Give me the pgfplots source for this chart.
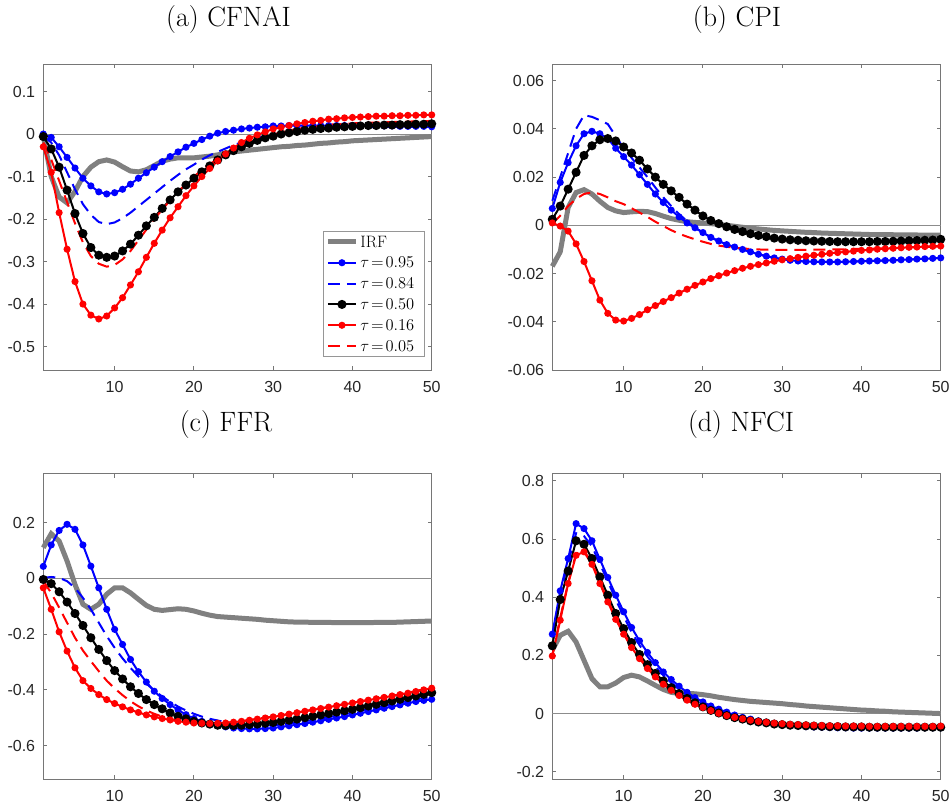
\RequirePackage{fix-cm}
\documentclass[border=0pt]{standalone}
\usepackage{fontspec}
\usepackage{pgfplots}
\usepackage{pgfplotstable}
\pgfplotsset{compat=1.18}
\newfontfamily\ticksf{Liberation Sans}
\definecolor{irfgray}{RGB}{128,128,128}
\definecolor{axgray}{RGB}{118,118,118}
\definecolor{zerogray}{RGB}{140,140,140}
\definecolor{tickgray}{RGB}{38,38,38}
\definecolor{leggray}{RGB}{150,150,150}

\pgfplotstableread{
t irf q95 q84 q50 q16 q05
1 -0.005 0.000 -0.005 -0.006 -0.030 -0.020
2 -0.100 -0.008 -0.020 -0.035 -0.090 -0.060
3 -0.148 -0.030 -0.050 -0.078 -0.185 -0.110
4 -0.162 -0.055 -0.090 -0.132 -0.271 -0.160
5 -0.135 -0.080 -0.130 -0.187 -0.347 -0.210
6 -0.100 -0.104 -0.165 -0.234 -0.400 -0.255
7 -0.078 -0.122 -0.190 -0.267 -0.426 -0.287
8 -0.065 -0.136 -0.207 -0.285 -0.435 -0.305
9 -0.061 -0.141 -0.212 -0.290 -0.428 -0.312
10 -0.066 -0.138 -0.208 -0.287 -0.409 -0.308
11 -0.077 -0.130 -0.198 -0.275 -0.385 -0.295
12 -0.087 -0.118 -0.185 -0.259 -0.355 -0.275
13 -0.089 -0.104 -0.170 -0.238 -0.324 -0.250
14 -0.084 -0.091 -0.155 -0.216 -0.290 -0.225
15 -0.074 -0.078 -0.140 -0.196 -0.257 -0.200
16 -0.064 -0.065 -0.125 -0.175 -0.226 -0.178
17 -0.059 -0.053 -0.110 -0.155 -0.197 -0.156
18 -0.056 -0.042 -0.096 -0.136 -0.171 -0.136
19 -0.056 -0.031 -0.083 -0.120 -0.145 -0.117
20 -0.056 -0.022 -0.072 -0.104 -0.122 -0.100
21 -0.054 -0.013 -0.060 -0.089 -0.100 -0.085
22 -0.052 -0.005 -0.050 -0.075 -0.081 -0.071
23 -0.049 0.002 -0.042 -0.061 -0.063 -0.058
24 -0.045 0.006 -0.034 -0.049 -0.047 -0.046
25 -0.042 0.009 -0.026 -0.039 -0.033 -0.036
26 -0.040 0.012 -0.020 -0.030 -0.020 -0.027
27 -0.038 0.014 -0.014 -0.022 -0.010 -0.019
28 -0.036 0.016 -0.009 -0.015 -0.002 -0.012
29 -0.034 0.017 -0.005 -0.009 0.005 -0.006
30 -0.032 0.019 -0.001 -0.005 0.012 -0.001
31 -0.030 0.019 0.002 0.000 0.016 0.004
32 -0.029 0.020 0.005 0.003 0.020 0.008
33 -0.027 0.020 0.008 0.006 0.024 0.012
34 -0.026 0.020 0.010 0.009 0.027 0.015
35 -0.024 0.020 0.012 0.011 0.030 0.018
36 -0.022 0.020 0.013 0.013 0.032 0.020
37 -0.021 0.020 0.014 0.014 0.035 0.022
38 -0.019 0.020 0.015 0.016 0.036 0.023
39 -0.018 0.020 0.015 0.017 0.038 0.024
40 -0.016 0.020 0.016 0.018 0.039 0.025
41 -0.015 0.020 0.016 0.019 0.040 0.026
42 -0.014 0.019 0.016 0.020 0.041 0.027
43 -0.013 0.019 0.017 0.020 0.042 0.027
44 -0.012 0.019 0.017 0.021 0.042 0.028
45 -0.011 0.019 0.017 0.021 0.043 0.028
46 -0.010 0.018 0.017 0.022 0.043 0.029
47 -0.009 0.018 0.017 0.022 0.044 0.029
48 -0.008 0.018 0.017 0.023 0.044 0.030
49 -0.007 0.018 0.017 0.023 0.045 0.030
50 -0.006 0.017 0.017 0.024 0.045 0.031
}\dataA

\pgfplotstableread{
t irf q95 q84 q50 q16 q05
1 -0.0170 0.0070 0.0102 0.0025 0.0010 0.0007
2 -0.0110 0.0178 0.0200 0.0080 -0.0003 0.0040
3 0.0074 0.0260 0.0300 0.0150 -0.0024 0.0080
4 0.0136 0.0330 0.0400 0.0220 -0.0077 0.0110
5 0.0148 0.0380 0.0457 0.0290 -0.0150 0.0130
6 0.0130 0.0390 0.0450 0.0330 -0.0230 0.0137
7 0.0100 0.0380 0.0436 0.0355 -0.0310 0.0130
8 0.0074 0.0360 0.0420 0.0360 -0.0365 0.0116
9 0.0060 0.0320 0.0370 0.0350 -0.0393 0.0100
10 0.0053 0.0285 0.0320 0.0325 -0.0397 0.0088
11 0.0056 0.0250 0.0280 0.0300 -0.0386 0.0071
12 0.0058 0.0210 0.0240 0.0270 -0.0370 0.0053
13 0.0057 0.0170 0.0200 0.0234 -0.0350 0.0035
14 0.0049 0.0130 0.0157 0.0200 -0.0333 0.0015
15 0.0038 0.0095 0.0116 0.0170 -0.0316 -0.0003
16 0.0028 0.0063 0.0080 0.0143 -0.0300 -0.0020
17 0.0021 0.0035 0.0046 0.0116 -0.0281 -0.0035
18 0.0015 0.0010 0.0018 0.0088 -0.0265 -0.0047
19 0.0012 -0.0010 -0.0010 0.0063 -0.0249 -0.0058
20 0.0010 -0.0030 -0.0030 0.0039 -0.0235 -0.0068
21 0.0007 -0.0050 -0.0050 0.0020 -0.0221 -0.0077
22 0.0004 -0.0065 -0.0066 0.0007 -0.0209 -0.0084
23 0.0000 -0.0080 -0.0080 -0.0006 -0.0198 -0.0089
24 -0.0004 -0.0090 -0.0090 -0.0017 -0.0188 -0.0093
25 -0.0008 -0.0100 -0.0100 -0.0026 -0.0178 -0.0096
26 -0.0012 -0.0110 -0.0110 -0.0035 -0.0170 -0.0098
27 -0.0015 -0.0120 -0.0120 -0.0042 -0.0163 -0.0100
28 -0.0018 -0.0128 -0.0128 -0.0047 -0.0156 -0.0101
29 -0.0021 -0.0135 -0.0135 -0.0053 -0.0149 -0.0102
30 -0.0023 -0.0140 -0.0140 -0.0057 -0.0143 -0.0102
31 -0.0025 -0.0145 -0.0145 -0.0060 -0.0138 -0.0102
32 -0.0027 -0.0148 -0.0148 -0.0062 -0.0133 -0.0102
33 -0.0029 -0.0150 -0.0150 -0.0064 -0.0128 -0.0102
34 -0.0030 -0.0151 -0.0151 -0.0065 -0.0124 -0.0101
35 -0.0032 -0.0152 -0.0152 -0.0066 -0.0120 -0.0101
36 -0.0033 -0.0152 -0.0152 -0.0067 -0.0116 -0.0100
37 -0.0034 -0.0152 -0.0152 -0.0068 -0.0113 -0.0100
38 -0.0035 -0.0151 -0.0151 -0.0068 -0.0110 -0.0099
39 -0.0036 -0.0150 -0.0150 -0.0068 -0.0107 -0.0098
40 -0.0037 -0.0149 -0.0149 -0.0068 -0.0104 -0.0098
41 -0.0038 -0.0148 -0.0148 -0.0068 -0.0102 -0.0097
42 -0.0038 -0.0147 -0.0147 -0.0067 -0.0099 -0.0096
43 -0.0039 -0.0146 -0.0146 -0.0067 -0.0097 -0.0095
44 -0.0039 -0.0145 -0.0145 -0.0066 -0.0095 -0.0094
45 -0.0040 -0.0143 -0.0143 -0.0065 -0.0093 -0.0093
46 -0.0040 -0.0142 -0.0142 -0.0064 -0.0091 -0.0092
47 -0.0040 -0.0140 -0.0140 -0.0063 -0.0090 -0.0091
48 -0.0041 -0.0139 -0.0139 -0.0062 -0.0088 -0.0090
49 -0.0041 -0.0137 -0.0137 -0.0061 -0.0087 -0.0089
50 -0.0041 -0.0135 -0.0135 -0.0058 -0.0086 -0.0088
}\dataB

\pgfplotstableread{
t irf q95 q84 q50 q16 q05
1 0.110 0.043 0.002 -0.004 -0.034 -0.010
2 0.160 0.120 0.005 -0.019 -0.111 -0.052
3 0.134 0.172 0.002 -0.048 -0.192 -0.105
4 0.062 0.194 -0.010 -0.085 -0.261 -0.159
5 -0.022 0.176 -0.034 -0.126 -0.321 -0.213
6 -0.093 0.120 -0.070 -0.169 -0.367 -0.259
7 -0.111 0.044 -0.111 -0.213 -0.395 -0.297
8 -0.093 -0.034 -0.159 -0.255 -0.417 -0.333
9 -0.057 -0.111 -0.207 -0.295 -0.435 -0.367
10 -0.034 -0.183 -0.249 -0.331 -0.449 -0.395
11 -0.034 -0.237 -0.287 -0.361 -0.461 -0.419
12 -0.052 -0.291 -0.321 -0.389 -0.472 -0.441
13 -0.075 -0.335 -0.352 -0.413 -0.481 -0.459
14 -0.097 -0.372 -0.378 -0.435 -0.490 -0.474
15 -0.111 -0.405 -0.402 -0.453 -0.497 -0.486
16 -0.115 -0.431 -0.424 -0.468 -0.503 -0.496
17 -0.112 -0.453 -0.443 -0.483 -0.508 -0.504
18 -0.109 -0.472 -0.460 -0.495 -0.513 -0.510
19 -0.111 -0.489 -0.474 -0.504 -0.516 -0.515
20 -0.117 -0.503 -0.486 -0.513 -0.519 -0.519
21 -0.125 -0.513 -0.496 -0.519 -0.520 -0.520
22 -0.132 -0.522 -0.504 -0.523 -0.521 -0.521
23 -0.137 -0.528 -0.510 -0.527 -0.520 -0.520
24 -0.139 -0.533 -0.516 -0.528 -0.519 -0.518
25 -0.141 -0.537 -0.521 -0.528 -0.516 -0.515
26 -0.143 -0.539 -0.525 -0.527 -0.513 -0.512
27 -0.145 -0.540 -0.527 -0.525 -0.509 -0.508
28 -0.147 -0.540 -0.528 -0.523 -0.505 -0.504
29 -0.150 -0.539 -0.528 -0.520 -0.501 -0.500
30 -0.152 -0.537 -0.527 -0.517 -0.497 -0.496
31 -0.154 -0.533 -0.524 -0.513 -0.492 -0.491
32 -0.156 -0.529 -0.521 -0.509 -0.487 -0.486
33 -0.157 -0.525 -0.517 -0.505 -0.482 -0.481
34 -0.157 -0.521 -0.513 -0.500 -0.477 -0.476
35 -0.158 -0.516 -0.508 -0.495 -0.472 -0.471
36 -0.158 -0.511 -0.503 -0.490 -0.467 -0.466
37 -0.158 -0.506 -0.498 -0.485 -0.462 -0.461
38 -0.159 -0.501 -0.493 -0.480 -0.457 -0.456
39 -0.159 -0.496 -0.488 -0.475 -0.452 -0.451
40 -0.159 -0.490 -0.482 -0.470 -0.447 -0.446
41 -0.159 -0.484 -0.476 -0.464 -0.442 -0.441
42 -0.159 -0.478 -0.470 -0.458 -0.437 -0.436
43 -0.158 -0.472 -0.464 -0.452 -0.432 -0.431
44 -0.158 -0.466 -0.458 -0.446 -0.427 -0.426
45 -0.158 -0.460 -0.452 -0.440 -0.422 -0.421
46 -0.157 -0.454 -0.446 -0.434 -0.417 -0.416
47 -0.156 -0.448 -0.440 -0.428 -0.412 -0.410
48 -0.155 -0.442 -0.434 -0.422 -0.406 -0.404
49 -0.154 -0.438 -0.430 -0.416 -0.400 -0.398
50 -0.153 -0.434 -0.426 -0.410 -0.394 -0.392
}\dataC

\pgfplotstableread{
t irf q95 q84 q50 q16 q05
1 0.218 0.273 0.265 0.233 0.198 0.200
2 0.269 0.422 0.410 0.392 0.321 0.330
3 0.283 0.533 0.520 0.490 0.447 0.450
4 0.246 0.653 0.620 0.594 0.544 0.550
5 0.183 0.636 0.610 0.582 0.556 0.560
6 0.120 0.594 0.575 0.533 0.513 0.518
7 0.092 0.530 0.515 0.470 0.447 0.452
8 0.092 0.468 0.455 0.407 0.384 0.390
9 0.105 0.407 0.392 0.344 0.324 0.330
10 0.124 0.350 0.335 0.292 0.273 0.278
11 0.132 0.296 0.280 0.244 0.227 0.232
12 0.126 0.250 0.235 0.203 0.189 0.193
13 0.112 0.210 0.196 0.168 0.155 0.159
14 0.097 0.175 0.162 0.138 0.126 0.130
15 0.083 0.143 0.132 0.112 0.101 0.104
16 0.073 0.117 0.106 0.089 0.080 0.083
17 0.069 0.094 0.085 0.069 0.062 0.064
18 0.069 0.073 0.066 0.052 0.046 0.048
19 0.068 0.055 0.049 0.037 0.032 0.034
20 0.065 0.040 0.034 0.023 0.021 0.022
21 0.061 0.026 0.021 0.011 0.010 0.011
22 0.056 0.015 0.010 0.002 0.001 0.002
23 0.052 0.005 0.001 -0.007 -0.007 -0.006
24 0.048 -0.005 -0.008 -0.014 -0.013 -0.012
25 0.045 -0.013 -0.015 -0.019 -0.018 -0.017
26 0.042 -0.019 -0.021 -0.025 -0.023 -0.022
27 0.040 -0.025 -0.027 -0.029 -0.027 -0.026
28 0.038 -0.030 -0.031 -0.032 -0.030 -0.029
29 0.036 -0.034 -0.035 -0.036 -0.033 -0.032
30 0.034 -0.038 -0.038 -0.038 -0.035 -0.034
31 0.031 -0.041 -0.041 -0.040 -0.037 -0.036
32 0.029 -0.043 -0.043 -0.041 -0.038 -0.037
33 0.026 -0.045 -0.045 -0.042 -0.039 -0.038
34 0.024 -0.046 -0.046 -0.043 -0.040 -0.039
35 0.022 -0.047 -0.047 -0.044 -0.041 -0.040
36 0.020 -0.048 -0.048 -0.045 -0.042 -0.041
37 0.018 -0.049 -0.049 -0.045 -0.042 -0.041
38 0.016 -0.049 -0.049 -0.046 -0.043 -0.042
39 0.014 -0.050 -0.050 -0.046 -0.043 -0.042
40 0.012 -0.050 -0.050 -0.046 -0.043 -0.042
41 0.011 -0.050 -0.050 -0.047 -0.044 -0.043
42 0.009 -0.050 -0.050 -0.047 -0.044 -0.043
43 0.008 -0.050 -0.050 -0.047 -0.044 -0.043
44 0.006 -0.050 -0.050 -0.047 -0.044 -0.043
45 0.005 -0.050 -0.050 -0.047 -0.044 -0.043
46 0.004 -0.050 -0.050 -0.047 -0.044 -0.043
47 0.003 -0.050 -0.050 -0.047 -0.044 -0.043
48 0.002 -0.049 -0.049 -0.047 -0.044 -0.043
49 0.001 -0.049 -0.049 -0.047 -0.044 -0.043
50 0.000 -0.049 -0.049 -0.047 -0.043 -0.042
}\dataD

\pgfplotsset{
  panel/.style={
    scale only axis, width=388.4pt, height=305.7pt,
    xmin=1, xmax=50, xtick={10,20,30,40,50},
    xticklabels={10,20,30,40,50},
    axis line style={draw=axgray, line width=0.9pt},
    tick style={draw=axgray, line width=0.9pt},
    major tick length=4pt, tick align=inside,
    xtick pos=both, ytick pos=both,
    xticklabel pos=lower, yticklabel pos=left,
    tick label style={font=\ticksf\fontsize{16}{16}\selectfont, text=tickgray, inner sep=0pt},
    x tick label style={anchor=north, yshift=-11pt},
    y tick label style={anchor=east, xshift=-8pt},
    scaled ticks=false, clip=false,
  },
  zl/.style={zerogray, line width=0.9pt, no markers, forget plot},
  irf/.style={irfgray, line width=5pt, no markers},
  q95/.style={blue, line width=2pt, mark=*, mark size=2.5pt, mark options={solid}},
  q84/.style={blue, line width=2pt, dash pattern=on 12pt off 7pt, no markers},
  q50/.style={black, line width=2pt, mark=*, mark size=3.5pt, mark options={solid}},
  q16/.style={red, line width=2pt, mark=*, mark size=2.5pt, mark options={solid}},
  q05/.style={red, line width=2pt, dash pattern=on 12pt off 7pt, no markers},
}

\newcommand{\allplots}[1]{%
  \addplot[zl] coordinates {(1,0) (50,0)};
  \addplot[irf] table[x=t,y=irf] {#1};
  \addplot[q95] table[x=t,y=q95] {#1};
  \addplot[q84] table[x=t,y=q84] {#1};
  \addplot[q50] table[x=t,y=q50] {#1};
  \addplot[q16] table[x=t,y=q16] {#1};
  \addplot[q05] table[x=t,y=q05] {#1};
}
\newcommand{\legent}[1]{\makebox[62pt][l]{\fontsize{16.5}{17}\selectfont #1}}
\newcommand{\tq}[1]{$\tau\mkern-3mu=\mkern-3mu#1$}

\begin{document}
\begin{tikzpicture}
\useasboundingbox (0,0) rectangle (952pt,808pt);

\begin{axis}[panel, at={(43.3pt,438pt)}, anchor=south west,
  ymin=-0.555, ymax=0.164,
  ytick={-0.5,-0.4,-0.3,-0.2,-0.1,0,0.1},
  yticklabels={-0.5,-0.4,-0.3,-0.2,-0.1,0,0.1},
  legend style={at={(0.7194,0.4547)}, anchor=north west, draw=leggray, line width=0.9pt,
    fill=white, inner xsep=2.3pt, inner ysep=0pt,
    row sep=0pt, column sep=2pt, font=\fontsize{16.5}{17}\selectfont,
    nodes={inner sep=0pt, text height=15.7pt, text depth=5.15pt, font=\fontsize{16.5}{17}\selectfont}},
  legend cell align=left,
  legend image code/.code={\draw[mark repeat=2,mark phase=2,#1] plot coordinates {(0pt,0pt) (14pt,0pt) (28pt,0pt)};},
]
\allplots{\dataA}
\legend{\legent{IRF},\legent{\tq{0.95}},\legent{\tq{0.84}},\legent{\tq{0.50}},\legent{\tq{0.16}},\legent{\tq{0.05}}}
\end{axis}

\begin{axis}[panel, at={(552.3pt,438pt)}, anchor=south west,
  ymin=-0.06, ymax=0.0668,
  ytick={-0.06,-0.04,-0.02,0,0.02,0.04,0.06},
  yticklabels={-0.06,-0.04,-0.02,0,0.02,0.04,0.06},
]
\allplots{\dataB}
\end{axis}

\begin{axis}[panel, at={(43.3pt,28.7pt)}, anchor=south west,
  ymin=-0.721, ymax=0.376,
  ytick={-0.6,-0.4,-0.2,0,0.2},
  yticklabels={-0.6,-0.4,-0.2,0,0.2},
]
\allplots{\dataC}
\end{axis}

\begin{axis}[panel, at={(552.3pt,28.7pt)}, anchor=south west,
  ymin=-0.226, ymax=0.825,
  ytick={-0.2,0,0.2,0.4,0.6,0.8},
  yticklabels={-0.2,0,0.2,0.4,0.6,0.8},
]
\allplots{\dataD}
\end{axis}

\node[anchor=base, font=\fontsize{28}{30}\selectfont] at (228.5pt,781pt) {(a) CFNAI};
\node[anchor=base, font=\fontsize{28}{30}\selectfont] at (737pt,781pt) {(b) CPI};
\node[anchor=base, font=\fontsize{28}{30}\selectfont] at (226pt,376pt) {(c) FFR};
\node[anchor=base, font=\fontsize{28}{30}\selectfont] at (741pt,376pt) {(d) NFCI};
\end{tikzpicture}
\end{document}
